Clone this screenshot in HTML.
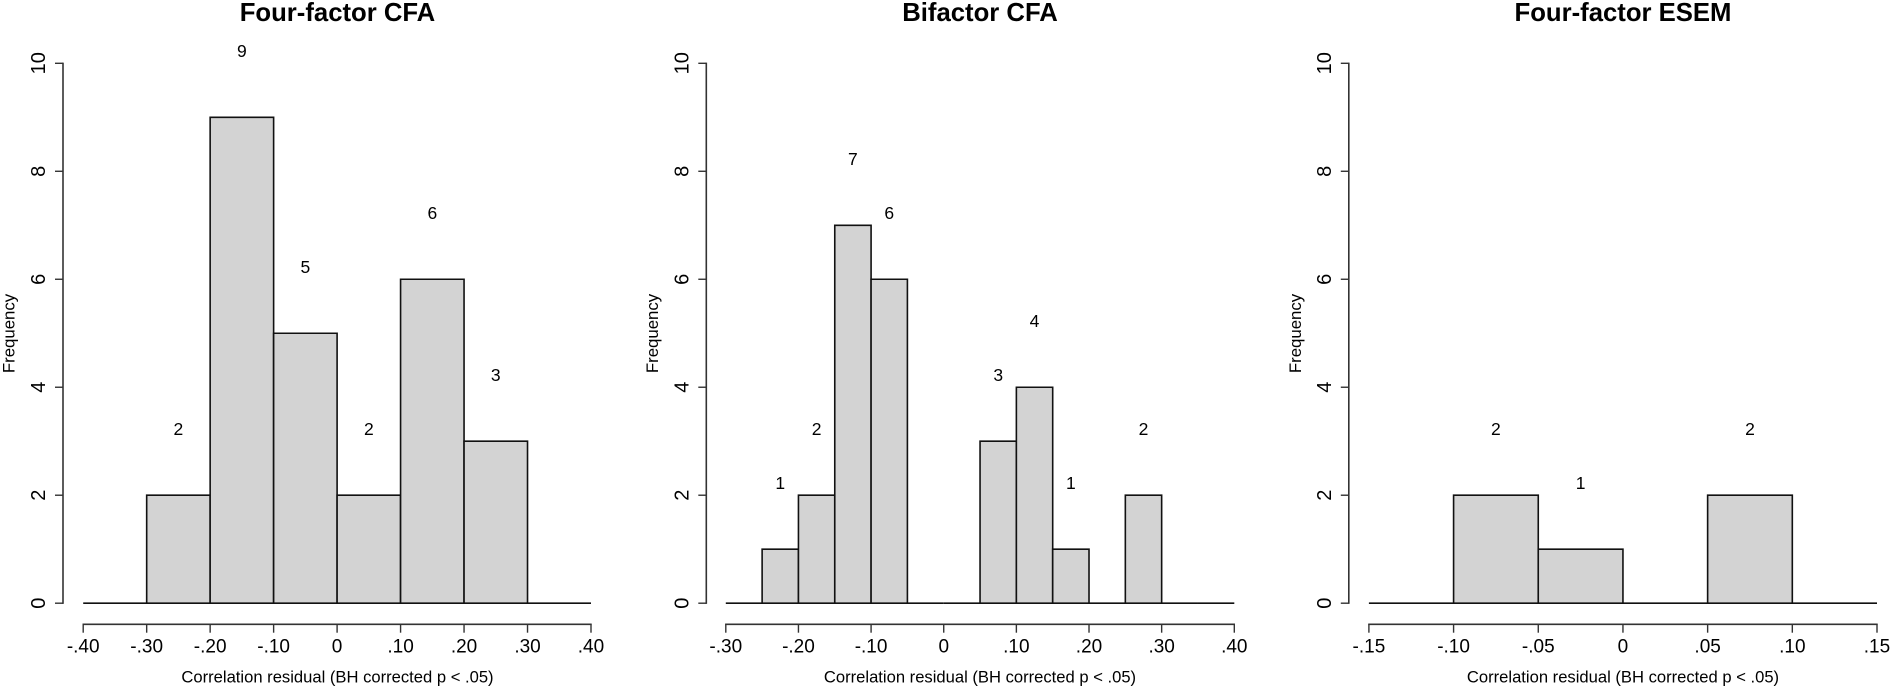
<!DOCTYPE html>
<html lang="en">
<head>
<meta charset="utf-8">
<title>Correlation residual histograms</title>
<style>
html,body{margin:0;padding:0;background:#fff;width:1892px;height:687px;overflow:hidden}
svg{display:block;font-family:"Liberation Sans",Arial,sans-serif}
text{fill:#000}
</style>
</head>
<body>
<svg id="figure" width="1892" height="687" viewBox="0 0 1892 687" xmlns="http://www.w3.org/2000/svg">
  <rect width="1892" height="687" fill="#fff"/>
  <g id="panel-a">
    <text x="337.5" y="21.2" text-anchor="middle" font-size="25.7" font-weight="bold">Four-factor CFA</text>
    <text x="337.5" y="682.7" text-anchor="middle" font-size="16.6">Correlation residual (BH corrected p &lt; .05)</text>
    <text transform="translate(14.7,333.5) rotate(-90)" text-anchor="middle" font-size="16.8">Frequency</text>
  </g>
  <g id="panel-b">
    <text x="980" y="21.2" text-anchor="middle" font-size="25.7" font-weight="bold">Bifactor CFA</text>
    <text x="980" y="682.7" text-anchor="middle" font-size="16.6">Correlation residual (BH corrected p &lt; .05)</text>
    <text transform="translate(658,333.5) rotate(-90)" text-anchor="middle" font-size="16.8">Frequency</text>
  </g>
  <g id="panel-c">
    <text x="1623" y="21.2" text-anchor="middle" font-size="25.7" font-weight="bold">Four-factor ESEM</text>
    <text x="1623" y="682.7" text-anchor="middle" font-size="16.6">Correlation residual (BH corrected p &lt; .05)</text>
    <text transform="translate(1301,333.5) rotate(-90)" text-anchor="middle" font-size="16.8">Frequency</text>
  </g>
</svg>
<script>
// Data: histogram bin edges, counts and tick labels
const freqTicks = [0, 2, 4, 6, 8, 10];

const cfaBreaks = [-0.40, -0.30, -0.20, -0.10, 0, 0.10, 0.20, 0.30, 0.40];
const cfaCounts = [0, 2, 9, 5, 2, 6, 3, 0];
const cfaTickValues = [-0.40, -0.30, -0.20, -0.10, 0, 0.10, 0.20, 0.30, 0.40];
const cfaTickLabels = ['-.40', '-.30', '-.20', '-.10', '0', '.10', '.20', '.30', '.40'];

const bifactorBreaks = [-0.30, -0.25, -0.20, -0.15, -0.10, -0.05, 0, 0.05, 0.10, 0.15, 0.20, 0.25, 0.30, 0.35, 0.40];
const bifactorCounts = [0, 1, 2, 7, 6, 0, 0, 3, 4, 1, 0, 2, 0, 0];
const bifactorTickValues = [-0.30, -0.20, -0.10, 0, 0.10, 0.20, 0.30, 0.40];
const bifactorTickLabels = ['-.30', '-.20', '-.10', '0', '.10', '.20', '.30', '.40'];

const esemBreaks = [-0.15, -0.10, -0.05, 0, 0.05, 0.10, 0.15];
const esemCounts = [0, 2, 1, 0, 2, 0];
const esemTickValues = [-0.15, -0.10, -0.05, 0, 0.05, 0.10, 0.15];
const esemTickLabels = ['-.15', '-.10', '-.05', '0', '.05', '.10', '.15'];

// Offset of each count label above its bar, in frequency units
const countLabelOffset = 1.2;

// Shared vertical frame
const plotTop = 63.3;
const plotBottom = 603.2;
const freqMax = 10;
const svgNS = 'http://www.w3.org/2000/svg';

function yScale(v) {
  return plotBottom - (v / freqMax) * (plotBottom - plotTop);
}

function makeEl(parent, tag, attrs) {
  const el = document.createElementNS(svgNS, tag);
  for (const key in attrs) {
    el.setAttribute(key, attrs[key]);
  }
  parent.appendChild(el);
  return el;
}

function drawPanel(groupId, prefix, frame, breaks, counts, tickValues, tickLabels) {
  const group = document.getElementById(groupId);
  const min = breaks[0];
  const max = breaks[breaks.length - 1];
  const xScale = function (v) {
    return frame.xLeft + ((v - min) / (max - min)) * (frame.xRight - frame.xLeft);
  };

  // Bars as closed paths, so zero-count bins still draw a flat line on the baseline (as in R's hist)
  counts.forEach(function (count, i) {
    const x0 = xScale(breaks[i]);
    const x1 = xScale(breaks[i + 1]);
    const d = 'M' + x0 + ' ' + yScale(0) + 'V' + yScale(count) + 'H' + x1 + 'V' + yScale(0) + 'Z';
    const bar = makeEl(group, 'path', {
      d: d, fill: '#d3d3d3', stroke: '#111', 'stroke-width': 1.6
    });
    
    
  });

  // Count labels
  counts.forEach(function (count, i) {
    if (count === 0) return;
    const mid = (breaks[i] + breaks[i + 1]) / 2;
    const label = makeEl(group, 'text', {
      x: xScale(mid), y: yScale(count + countLabelOffset) + 4.5,
      'text-anchor': 'middle', 'font-size': 17.5
    });
    label.textContent = String(count);
    
    
  });

  // Y axis
  const yAxisLine = makeEl(group, 'line', {
    x1: frame.yAxisX, x2: frame.yAxisX, y1: yScale(0) + 0.7, y2: yScale(freqMax) - 0.7,
    stroke: '#333', 'stroke-width': 1.6
  });
  
  

  freqTicks.forEach(function (t) {
    const tick = makeEl(group, 'line', {
      x1: frame.yAxisX - 8, x2: frame.yAxisX, y1: yScale(t), y2: yScale(t),
      stroke: '#333', 'stroke-width': 1.4
    });
    
    
    const yLabel = makeEl(group, 'text', {
      transform: 'translate(' + (frame.yAxisX - 18) + ',' + yScale(t) + ') rotate(-90)',
      'text-anchor': 'middle', 'font-size': 20
    });
    yLabel.textContent = String(t);
    
    
  });

  // X axis
  const xAxisLine = makeEl(group, 'line', {
    x1: xScale(tickValues[0]) - 0.7, x2: xScale(tickValues[tickValues.length - 1]) + 0.7,
    y1: 624.3, y2: 624.3, stroke: '#333', 'stroke-width': 1.6
  });
  
  

  tickValues.forEach(function (t, i) {
    const tick = makeEl(group, 'line', {
      x1: xScale(t), x2: xScale(t), y1: 624.3, y2: 632.7,
      stroke: '#333', 'stroke-width': 1.4
    });
    
    
    const xLabel = makeEl(group, 'text', {
      x: xScale(t), y: 652.7, 'text-anchor': 'middle', 'font-size': 19
    });
    xLabel.textContent = tickLabels[i];
    
    
  });
}

drawPanel('panel-a', 'four-factor-cfa', { xLeft: 83.2, xRight: 591, yAxisX: 63 },
  cfaBreaks, cfaCounts, cfaTickValues, cfaTickLabels);
drawPanel('panel-b', 'bifactor-cfa', { xLeft: 725.8, xRight: 1234.3, yAxisX: 706.3 },
  bifactorBreaks, bifactorCounts, bifactorTickValues, bifactorTickLabels);
drawPanel('panel-c', 'four-factor-esem', { xLeft: 1368.9, xRight: 1877, yAxisX: 1348.8 },
  esemBreaks, esemCounts, esemTickValues, esemTickLabels);
</script>
</body>
</html>
